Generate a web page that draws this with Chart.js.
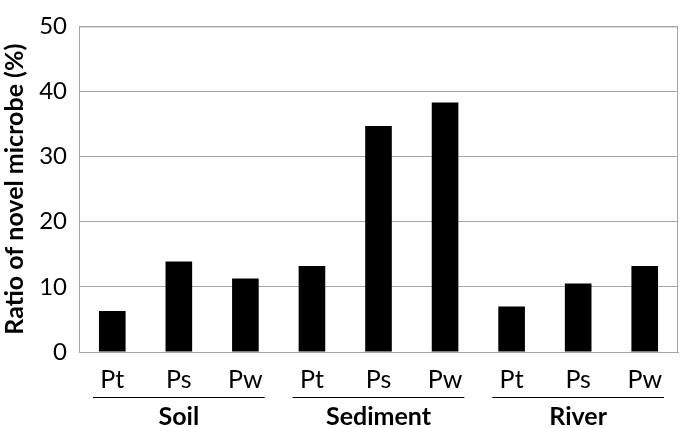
<!DOCTYPE html>
<html>
<head>
<meta charset="utf-8">
<script src="https://cdn.jsdelivr.net/npm/chart.js@4.4.1/dist/chart.umd.min.js"></script>
<style>
  html, body { margin: 0; padding: 0; background: #fff; }
  #wrap { width: 680px; height: 428px; }
</style>
</head>
<body>
<div id="wrap"><canvas id="grafico" width="680" height="428"></canvas></div>
<script>
// categorias e valores
const categorias = ['Pt', 'Ps', 'Pw', 'Pt', 'Ps', 'Pw', 'Pt', 'Ps', 'Pw'];
const valores = [6.3, 13.9, 11.3, 13.2, 34.7, 38.3, 7.0, 10.5, 13.2];
const grupos = ['Soil', 'Sediment', 'River'];
const tamanhoGrupo = 3;
const yTicks = [0, 10, 20, 30, 40, 50];

const fonte = 'Lato, "Noto Sans", sans-serif';

// moldura + rotulos de grupo com sublinhado
const gruposPlugin = {
    id: 'grupos',
    beforeDatasetsDraw(chart) {
        const { ctx, chartArea: a } = chart;
        ctx.save();
        ctx.strokeStyle = '#a6a6a6';
        ctx.lineWidth = 1;
        ctx.strokeRect(a.left + 0.5, a.top + 0.5, a.right - a.left - 1, a.bottom - a.top);
        ctx.restore();
    },
    afterDraw(chart) {
        const { ctx } = chart;
        const x = chart.scales.x;
        const larg = (x.right - x.left) / categorias.length;
        ctx.save();
        grupos.forEach((g, i) => {
            const x0 = x.getPixelForValue(i * tamanhoGrupo) - 0.29 * larg;
            const x1 = x.getPixelForValue(i * tamanhoGrupo + tamanhoGrupo - 1) + 0.29 * larg;
            ctx.strokeStyle = '#000';
            ctx.lineWidth = 1;
            ctx.beginPath();
            ctx.moveTo(x0, 397.5);
            ctx.lineTo(x1, 397.5);
            ctx.stroke();
            ctx.fillStyle = '#000';
            ctx.font = 'bold 25px ' + fonte;
            ctx.textAlign = 'center';
            ctx.textBaseline = 'middle';
            ctx.fillText(g, (x0 + x1) / 2, 417);
        });
        ctx.restore();
    }
};

new Chart(document.getElementById('grafico'), {
    type: 'bar',
    data: {
        labels: categorias,
        datasets: [{
            data: valores,
            backgroundColor: '#000',
            borderWidth: 0,
            categoryPercentage: 1,
            barPercentage: 0.4
        }]
    },
    options: {
        responsive: false,
        animation: false,
        layout: { padding: { top: 9, right: 2, left: 0, bottom: 0 } },
        plugins: { legend: { display: false }, tooltip: { enabled: false } },
        scales: {
            x: {
                grid: { display: false, drawTicks: false },
                border: { display: true, color: '#a6a6a6' },
                ticks: {
                    color: '#000',
                    font: { family: fonte, size: 25 },
                    padding: 13,
                    maxRotation: 0,
                    autoSkip: false
                },
                afterFit(s) { s.height = 76; }
            },
            y: {
                min: 0,
                max: 50,
                afterBuildTicks(s) { s.ticks = yTicks.map(v => ({ value: v })); },
                grid: { color: '#a6a6a6', drawTicks: false },
                border: { display: true, color: '#a6a6a6' },
                ticks: {
                    color: '#000',
                    font: { family: fonte, size: 24 },
                    padding: 12
                },
                title: {
                    display: true,
                    text: 'Ratio of novel microbe (%)',
                    color: '#000',
                    font: { family: fonte, size: 25, weight: 'bold' },
                    padding: { top: 0, bottom: 0 }
                },
                afterFit(s) { s.width = 79; }
            }
        }
    },
    plugins: [gruposPlugin]
});
</script>
</body>
</html>
